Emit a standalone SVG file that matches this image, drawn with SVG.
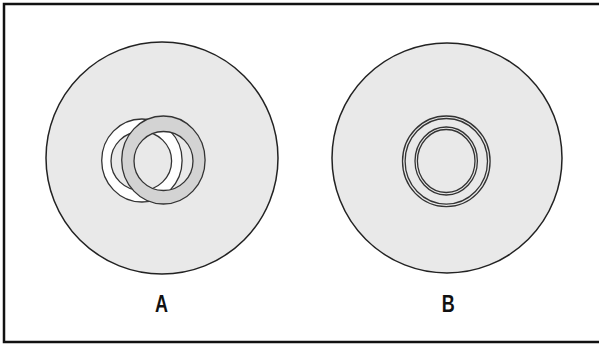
<svg xmlns="http://www.w3.org/2000/svg" width="599" height="344" viewBox="0 0 599 344">
<style>
.disc{fill:#e9e9e9;stroke:#222;stroke-width:1.5}
.ln{stroke:#333;stroke-width:1.3}
.lbl{font-family:"Liberation Sans",Arial,sans-serif;font-weight:bold;font-size:18px;fill:#111;text-anchor:middle}
</style>
<rect x="0" y="0" width="599" height="344" fill="#fff"/>
<rect x="4" y="4" width="600" height="338" fill="none" stroke="#111" stroke-width="2.5"/>
<g id="nodeA">
<circle class="disc" cx="162" cy="158" r="116"/>
<path class="ln" fill="#fff" fill-rule="evenodd" d="M101.7,160.5 a40.2,41.5 0 1,0 80.4,0 a40.2,41.5 0 1,0 -80.4,0 Z M111,161 a30.3,29.5 0 1,0 60.6,0 a30.3,29.5 0 1,0 -60.6,0 Z"/>
<path class="ln" fill="#d3d3d3" fill-rule="evenodd" d="M121.7,160 a41.7,44 0 1,0 83.4,0 a41.7,44 0 1,0 -83.4,0 Z M134,161 a29.5,29.5 0 1,0 59,0 a29.5,29.5 0 1,0 -59,0 Z"/>
<text class="lbl" transform="translate(161.5,312) scale(1,1.3)">A</text>
</g>
<g id="nodeB">
<circle class="disc" cx="447" cy="158" r="115"/>
<ellipse class="ln" fill="none" cx="446.3" cy="161.3" rx="43.8" ry="45.3"/>
<ellipse class="ln" fill="none" cx="446.3" cy="161.3" rx="41.2" ry="42.8"/>
<ellipse class="ln" fill="none" cx="446.2" cy="161" rx="31.2" ry="34"/>
<ellipse class="ln" fill="none" cx="446.2" cy="161" rx="28.8" ry="31.5"/>
<text class="lbl" transform="translate(448.3,312) scale(1,1.3)">B</text>
</g>
<g id="connectors"></g>
</svg>
